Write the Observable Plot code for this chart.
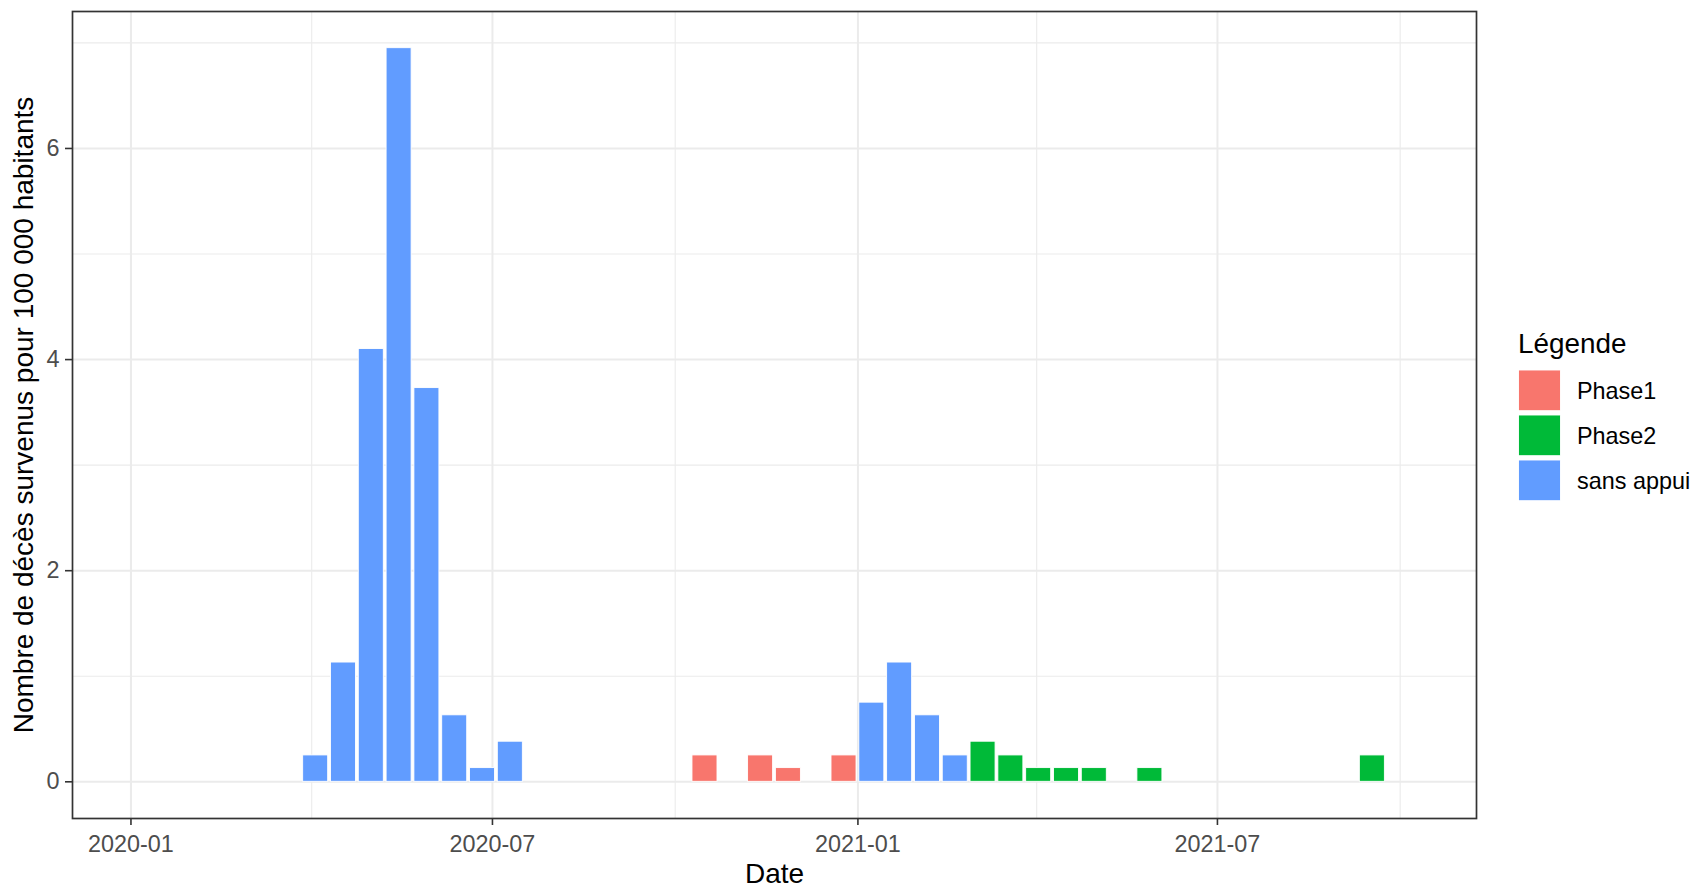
<!DOCTYPE html>
<html>
<head>
<meta charset="utf-8">
<script src="https://cdn.jsdelivr.net/npm/d3@7"></script>
<script src="https://cdn.jsdelivr.net/npm/@observablehq/plot@0.6"></script>
<style>
  html, body { margin: 0; padding: 0; background: #fff; }
  #chart { position: relative; width: 1700px; height: 889px; }
</style>
</head>
<body>
<div id="chart"></div>
<script>
// ---- data ----
const dates = [
  "2020-04-03","2020-04-17","2020-05-01","2020-05-15","2020-05-29","2020-06-12","2020-06-26","2020-07-10",
  "2020-10-16","2020-11-13","2020-11-27","2020-12-25",
  "2021-01-08","2021-01-22","2021-02-05","2021-02-19",
  "2021-03-05","2021-03-19","2021-04-02","2021-04-16","2021-04-30","2021-05-28","2021-09-17"
];
const values = [
  0.25, 1.13, 4.10, 6.95, 3.73, 0.63, 0.13, 0.38,
  0.25, 0.25, 0.13, 0.25,
  0.75, 1.13, 0.63, 0.25,
  0.38, 0.25, 0.13, 0.13, 0.13, 0.13, 0.25
];
const phases = [
  "sans appui","sans appui","sans appui","sans appui","sans appui","sans appui","sans appui","sans appui",
  "Phase1","Phase1","Phase1","Phase1",
  "sans appui","sans appui","sans appui","sans appui",
  "Phase2","Phase2","Phase2","Phase2","Phase2","Phase2","Phase2"
];
const legendCategories = ["Phase1", "Phase2", "sans appui"];
const legendColors = ["#F8766D", "#00BA38", "#619CFF"];
const xMajorTicks = ["2020-01-01", "2020-07-01", "2021-01-01", "2021-07-01"];
const xTickLabels = ["2020-01", "2020-07", "2021-01", "2021-07"];
const xMinorTicks = ["2020-04-01", "2020-10-01", "2021-04-01", "2021-10-01"];
const yMajorTicks = [0, 2, 4, 6];
const yTickLabels = ["0", "2", "4", "6"];
const yMinorTicks = [1, 3, 5, 7];
// full series span (zero-valued periods at both ends) used for the scale expansion
const seriesStart = "2020-01-10";
const seriesEnd = "2021-10-01";
const binDays = 14;

// ---- build ----
const DAY = 86400000;
const halfW = 0.9 * binDays / 2 * DAY;
const data = dates.map((d, i) => ({date: new Date(d), value: values[i], phase: phases[i]}));

const s0 = +new Date(seriesStart) - halfW, s1 = +new Date(seriesEnd) + halfW;
const xpad = 0.05 * (s1 - s0);
const xDomain = [new Date(s0 - xpad), new Date(s1 + xpad)];
const ymax = d3.max(values);
const yDomain = [-0.05 * ymax, ymax * 1.05];

const gridColor = "#EBEBEB";
const majors = xMajorTicks.map(d => new Date(d));
const minors = xMinorTicks.map(d => new Date(d));
const FONT = "'Liberation Sans', Arial, sans-serif";

const plot = Plot.plot({
  width: 1700,
  height: 889,
  marginLeft: 72,
  marginRight: 224,
  marginTop: 11,
  marginBottom: 71,
  style: {fontFamily: FONT, fontSize: "23.4px", background: "white"},
  x: {type: "utc", domain: xDomain},
  y: {domain: yDomain},
  color: {domain: legendCategories, range: legendColors},
  marks: [
    Plot.gridX(minors, {stroke: gridColor, strokeOpacity: 1, strokeWidth: 1.1}),
    Plot.gridY(yMinorTicks, {stroke: gridColor, strokeOpacity: 1, strokeWidth: 1.1}),
    Plot.gridX(majors, {stroke: gridColor, strokeOpacity: 1, strokeWidth: 2}),
    Plot.gridY(yMajorTicks, {stroke: gridColor, strokeOpacity: 1, strokeWidth: 2}),
    Plot.rectY(data, {
      x1: d => new Date(+d.date - halfW),
      x2: d => new Date(+d.date + halfW),
      y: "value",
      fill: "phase",
      stroke: "white",
      strokeWidth: 0.9
    }),
    Plot.axisX(majors, {
      tickSize: 7, tickPadding: 10, stroke: "#333333", strokeWidth: 1.6,
      fill: "#4D4D4D", fontSize: 23.4,
      tickFormat: (d, i) => xTickLabels[i], label: null
    }),
    Plot.axisY(yMajorTicks, {
      tickSize: 7, tickPadding: 6, stroke: "#333333", strokeWidth: 1.6,
      fill: "#4D4D4D", fontSize: 23.4,
      tickFormat: (d, i) => yTickLabels[i], label: null
    }),
    Plot.frame({stroke: "#333333", strokeWidth: 1.7}),
    Plot.text(["Date"], {frameAnchor: "bottom", lineAnchor: "middle", textAnchor: "middle", dy: 56, fontSize: 28, fill: "black"}),
    Plot.text(["Nombre de décès survenus pour 100 000 habitants"], {
      frameAnchor: "left", textAnchor: "middle", lineAnchor: "middle", rotate: -90, dx: -48, fontSize: 28, fill: "black"
    })
  ]
});

document.getElementById("chart").appendChild(plot);

// ---- legend (drawn into the right margin of the same SVG) ----
const svg = d3.select(plot);
const lg = svg.append("g").attr("class", "legend")
  .attr("font-family", FONT).attr("text-anchor", "start");
lg.append("text").attr("x", 1518).attr("y", 353).attr("font-size", 27.9)
  .attr("fill", "black").attr("text-anchor", "start").text("Légende");
legendCategories.forEach((c, i) => {
  const y0 = 370 + i * 45;
  lg.append("rect").attr("x", 1518.5).attr("y", y0).attr("width", 42).attr("height", 40.7)
    .attr("fill", legendColors[i]).attr("stroke", "white").attr("stroke-width", 0.9);
  lg.append("text").attr("x", 1577).attr("y", y0 + 20.35).attr("dy", "0.35em")
    .attr("font-size", 23.4).attr("fill", "black").attr("text-anchor", "start").text(c);
});
</script>
</body>
</html>
